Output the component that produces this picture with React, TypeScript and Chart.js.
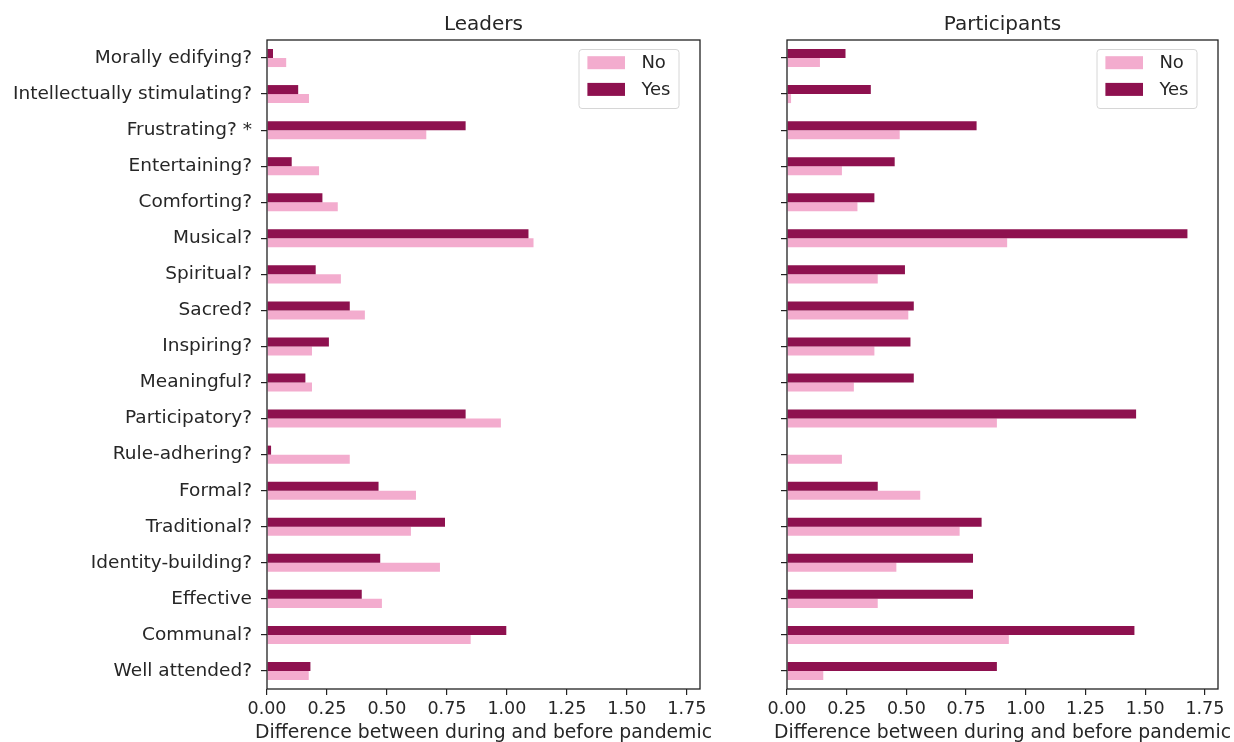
import React, { useEffect, useRef } from "react";
import { Chart, registerables } from "chart.js";

Chart.register(...registerables);

const categories = [
  "Morally edifying?",
  "Intellectually stimulating?",
  "Frustrating? *",
  "Entertaining?",
  "Comforting?",
  "Musical?",
  "Spiritual?",
  "Sacred?",
  "Inspiring?",
  "Meaningful?",
  "Participatory?",
  "Rule-adhering?",
  "Formal?",
  "Traditional?",
  "Identity-building?",
  "Effective",
  "Communal?",
  "Well attended?",
];

const leadersNo = [0.08, 0.175, 0.664, 0.217, 0.295, 1.111, 0.308, 0.408, 0.1875, 0.1875, 0.975, 0.345, 0.621, 0.6, 0.721, 0.479, 0.849, 0.174];
const leadersYes = [0.025, 0.13, 0.828, 0.103, 0.231, 1.09, 0.203, 0.345, 0.258, 0.16, 0.828, 0.017, 0.465, 0.742, 0.472, 0.395, 0.9975, 0.181];
const participantsNo = [0.138, 0.017, 0.472, 0.23, 0.295, 0.922, 0.38, 0.508, 0.366, 0.28, 0.879, 0.23, 0.558, 0.723, 0.458, 0.38, 0.929, 0.152];
const participantsYes = [0.245, 0.351, 0.794, 0.451, 0.366, 1.677, 0.494, 0.531, 0.517, 0.531, 1.462, 0, 0.38, 0.815, 0.779, 0.779, 1.455, 0.879];

const xTicks = [0, 0.25, 0.5, 0.75, 1.0, 1.25, 1.5, 1.75];
const xMax = 1.805;
const legendOrder = ["No", "Yes"];
const panelTitles = ["Leaders", "Participants"];
const xAxisTitle = "Difference between during and before pandemic";

const COLOR_NO = "#f3acce";
const COLOR_YES = "#8e114f";
const INK = "#262626";
const FONT = "'DejaVu Sans', sans-serif";

const decorPlugin = {
  id: "decor",
  afterDraw(chart: any, _args: any, opts: any) {
    const { ctx, chartArea } = chart;
    const { left, right, top, bottom } = chartArea;
    ctx.save();
    ctx.strokeStyle = "#222";
    ctx.lineWidth = 1.3;
    ctx.strokeRect(left, top, right - left, bottom - top);

    ctx.fillStyle = INK;
    ctx.font = `20px ${FONT}`;
    ctx.textAlign = "center";
    ctx.textBaseline = "alphabetic";
    ctx.fillText(opts.title, (left + right) / 2, top - 10);

    // x-axis title (drawn here so it is not squeezed to the plot width)
    ctx.font = `18.8px ${FONT}`;
    ctx.textBaseline = "middle";
    ctx.fillText(opts.xTitle, (left + right) / 2, bottom + 44);

    const bw = 100;
    const bh = 59;
    const bx = right - 21 - bw;
    const by = top + 9.5;
    ctx.beginPath();
    const r = 3;
    ctx.moveTo(bx + r, by);
    ctx.lineTo(bx + bw - r, by);
    ctx.quadraticCurveTo(bx + bw, by, bx + bw, by + r);
    ctx.lineTo(bx + bw, by + bh - r);
    ctx.quadraticCurveTo(bx + bw, by + bh, bx + bw - r, by + bh);
    ctx.lineTo(bx + r, by + bh);
    ctx.quadraticCurveTo(bx, by + bh, bx, by + bh - r);
    ctx.lineTo(bx, by + r);
    ctx.quadraticCurveTo(bx, by, bx + r, by);
    ctx.closePath();
    ctx.fillStyle = "rgba(255,255,255,0.85)";
    ctx.fill();
    ctx.strokeStyle = "#d6d6d6";
    ctx.lineWidth = 1;
    ctx.stroke();

    ctx.font = `18px ${FONT}`;
    ctx.textAlign = "left";
    ctx.textBaseline = "middle";
    legendOrder.forEach((lab, i) => {
      const ds = chart.data.datasets.find((d: any) => d.label === lab);
      const sy = by + 6.7 + i * 26.7;
      ctx.fillStyle = ds.backgroundColor;
      ctx.fillRect(bx + 8.4, sy, 37.6, 13);
      ctx.fillStyle = INK;
      ctx.fillText(lab, bx + 62.4, sy + 7);
    });
    ctx.restore();
  },
};

function makeConfig(title: string, noVals: number[], yesVals: number[], showLabels: boolean, axisWidth: number, padRight: number) {
  return {
    type: "bar" as const,
    data: {
      labels: categories,
      datasets: [
        { label: "Yes", data: yesVals, backgroundColor: COLOR_YES, borderWidth: 0, categoryPercentage: 0.5, barPercentage: 1.0 },
        { label: "No", data: noVals, backgroundColor: COLOR_NO, borderWidth: 0, categoryPercentage: 0.5, barPercentage: 1.0 },
      ],
    },
    options: {
      indexAxis: "y" as const,
      animation: false as const,
      responsive: false,
      maintainAspectRatio: false,
      layout: { padding: { left: 0, right: padRight, top: 40, bottom: 0 } },
      plugins: {
        legend: { display: false },
        tooltip: { enabled: false },
        title: { display: false },
        decor: { title, xTitle: xAxisTitle },
      },
      scales: {
        x: {
          type: "linear" as const,
          min: 0,
          max: xMax,
          grid: { display: true, drawOnChartArea: false, drawTicks: true, tickLength: 6, color: "#222", lineWidth: 1.2 },
          border: { display: false },
          ticks: {
            color: INK,
            font: { family: FONT, size: 17.5 },
            padding: 4,
            maxRotation: 0,
            autoSkip: false,
            includeBounds: false,
            callback: (v: any) => Number(v).toFixed(2),
          },
          afterBuildTicks: (scale: any) => {
            scale.ticks = xTicks.map((v) => ({ value: v }));
          },
          afterFit: (scale: any) => {
            scale.height = 53;
          },
          title: { display: false },
        },
        y: {
          type: "category" as const,
          offset: true,
          grid: { display: true, offset: false, drawOnChartArea: false, drawTicks: true, tickLength: 6, color: "#222", lineWidth: 1.2 },
          border: { display: false },
          ticks: {
            color: INK,
            font: { family: FONT, size: 18.5 },
            padding: 9,
            autoSkip: false,
            callback: function (this: any, v: any) {
              return showLabels ? this.getLabelForValue(v) : "";
            },
          },
          afterFit: (scale: any) => {
            scale.width = axisWidth;
          },
        },
      },
    },
    plugins: [decorPlugin],
  };
}

function Panel(props: { left: number; width: number; config: any }) {
  const ref = useRef<HTMLCanvasElement | null>(null);
  useEffect(() => {
    if (!ref.current) return;
    const chart = new Chart(ref.current, props.config);
    return () => chart.destroy();
  }, []);
  return (
    <canvas
      ref={ref}
      width={props.width}
      height={742}
      style={{ position: "absolute", left: props.left, top: 0, width: props.width, height: 742 }}
    />
  );
}

export default function App() {
  const leftCfg = makeConfig(panelTitles[0], leadersNo, leadersYes, true, 267, 20);
  const rightCfg = makeConfig(panelTitles[1], participantsNo, participantsYes, false, 67, 16);
  return (
    <div style={{ position: "absolute", left: 0, top: 0, width: 1234, height: 742, background: "#fff" }}>
      <Panel left={0} width={720} config={leftCfg} />
      <Panel left={720} width={514} config={rightCfg} />
    </div>
  );
}
